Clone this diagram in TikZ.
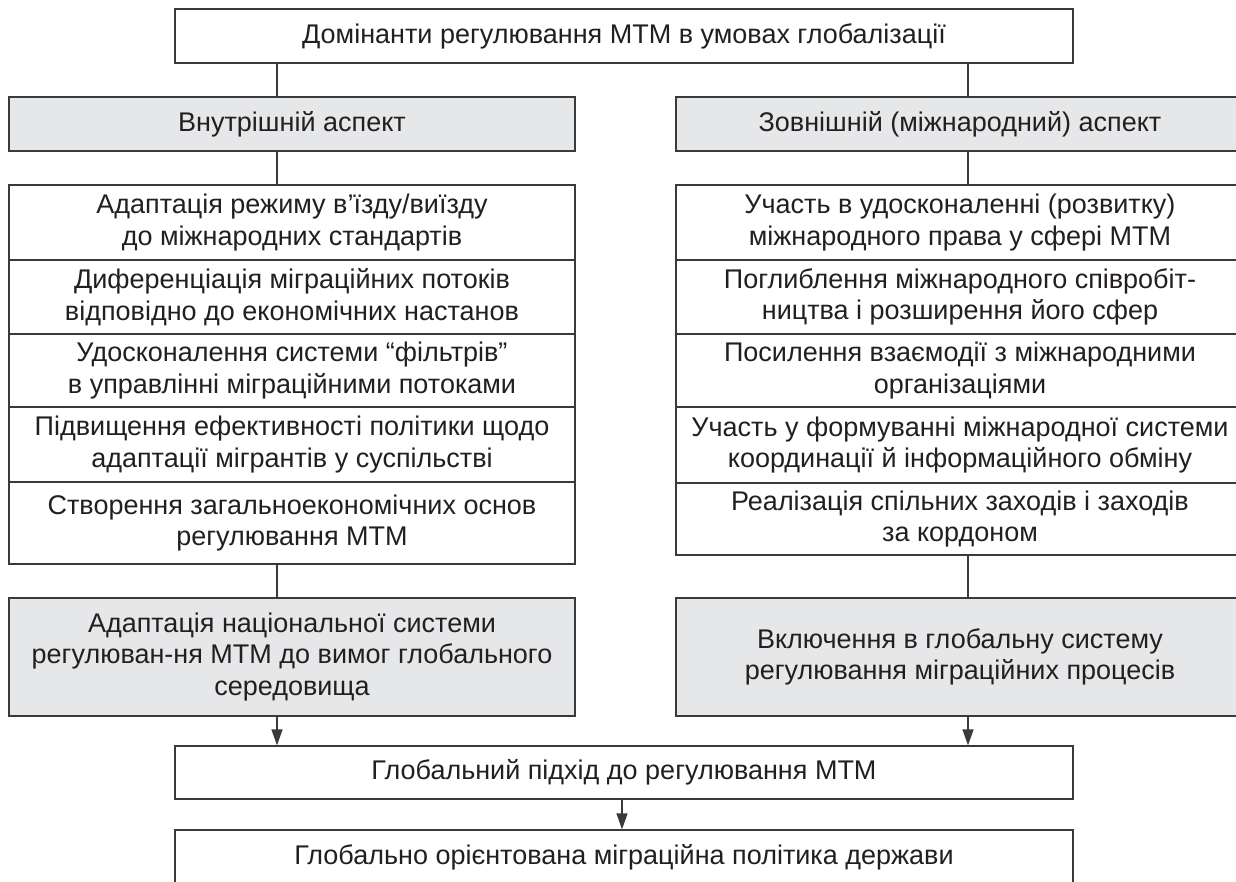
\documentclass[tikz,border=0pt]{standalone}
\usepackage{fontspec}
\setmainfont{Liberation Sans}
\usetikzlibrary{arrows.meta}
\definecolor{lc}{HTML}{3A3A3A}
\definecolor{gf}{HTML}{E6E7E8}
\definecolor{tc}{HTML}{231F20}
\tikzset{
  base/.style={draw=lc, line width=1.3pt, rectangle, inner sep=0pt, align=center, text=tc,
    font=\fontsize{27}{31.5}\selectfont},
  wbox/.style={base, fill=white},
  gbox/.style={base, fill=gf},
  conn/.style={draw=lc, line width=1.3pt},
  arr/.style={conn, -{Triangle[length=16pt,width=11pt]}}
}
\begin{document}
\begin{tikzpicture}[x=1pt,y=-1pt]
\useasboundingbox (0,0) rectangle (1236,882);
\fill[white] (0,0) rectangle (1236,882);
% connector x positions
\coordinate (cL) at (277,0);
\coordinate (cR) at (968,0);
\coordinate (cM) at (622,0);
% top
\node[wbox, minimum width=898, minimum height=54] (top) at (624,36) {Домінанти регулювання МТМ в умовах глобалізації};
% aspects
\node[gbox, minimum width=566, minimum height=54] (lg) at (292,124) {Внутрішній аспект};
\node[gbox, minimum width=568, minimum height=54] (rg) at (960,124) {Зовнішній (міжнародний) аспект};
% left list
\node[wbox, minimum width=566, minimum height=75] (l1) at (292,222.5) {Адаптація режиму в’їзду/виїзду\\до міжнародних стандартів};
\node[wbox, minimum width=566, minimum height=74] (l2) at (292,297) {Диференціація міграційних потоків\\відповідно до економічних настанов};
\node[wbox, minimum width=566, minimum height=73] (l3) at (292,370.5) {Удосконалення системи “фільтрів”\\в управлінні міграційними потоками};
\node[wbox, minimum width=566, minimum height=75] (l4) at (292,444.5) {Підвищення ефективності політики щодо\\адаптації мігрантів у суспільстві};
\node[wbox, minimum width=566, minimum height=82] (l5) at (292,523) {Створення загальноекономічних основ\\регулювання МТМ};
% right list
\node[wbox, minimum width=568, minimum height=75] (r1) at (960,222.5) {Участь в удосконаленні (розвитку)\\міжнародного права у сфері МТМ};
\node[wbox, minimum width=568, minimum height=74] (r2) at (960,297) {Поглиблення міжнародного співробіт-\\ництва і розширення його сфер};
\node[wbox, minimum width=568, minimum height=73] (r3) at (960,370.5) {Посилення взаємодії з міжнародними\\організаціями};
\node[wbox, minimum width=568, minimum height=76] (r4) at (960,445) {Участь у формуванні міжнародної системи\\координації й інформаційного обміну};
\node[wbox, minimum width=568, minimum height=72] (r5) at (960,519) {Реалізація спільних заходів і заходів\\за кордоном};
% results
\node[gbox, minimum width=566, minimum height=118] (lb) at (292,657) {Адаптація національної системи\\регулюван-ня МТМ до вимог глобального\\середовища};
\node[gbox, minimum width=568, minimum height=118] (rb) at (960,657) {Включення в глобальну систему\\регулювання міграційних процесів};
% global
\node[wbox, minimum width=898, minimum height=53] (glob) at (624,772.5) {Глобальний підхід до регулювання МТМ};
\node[wbox, minimum width=898, minimum height=54] (fin) at (624,857) {Глобально орієнтована міграційна політика держави};
% connectors
\draw[conn] (top.south -| cL) -- (lg.north -| cL);
\draw[conn] (top.south -| cR) -- (rg.north -| cR);
\draw[conn] (lg.south -| cL) -- (l1.north -| cL);
\draw[conn] (rg.south -| cR) -- (r1.north -| cR);
\draw[conn] (l5.south -| cL) -- (lb.north -| cL);
\draw[conn] (r5.south -| cR) -- (rb.north -| cR);
\draw[arr] (lb.south -| cL) -- (glob.north -| cL);
\draw[arr] (rb.south -| cR) -- (glob.north -| cR);
\draw[arr] (glob.south -| cM) -- (fin.north -| cM);
\end{tikzpicture}
\end{document}
